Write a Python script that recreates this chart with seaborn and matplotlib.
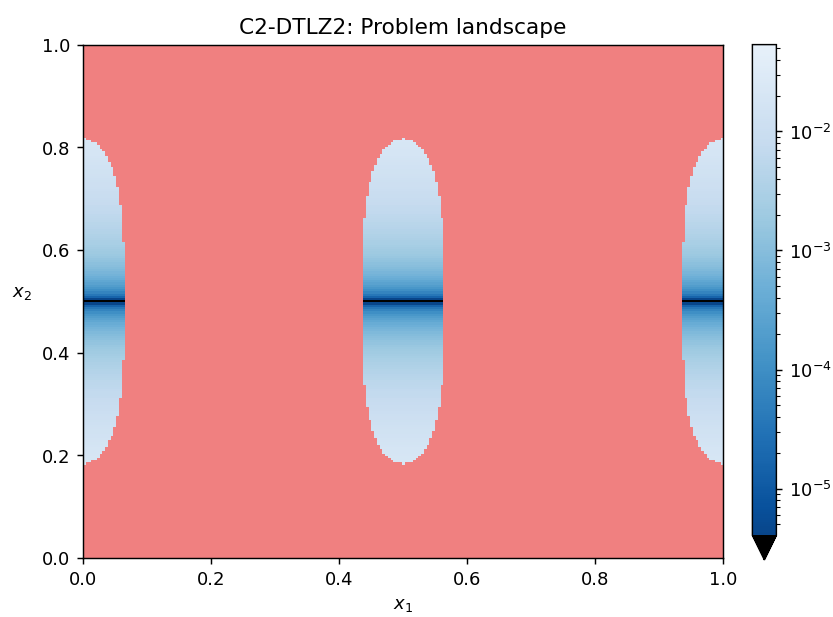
import numpy as np
import matplotlib
matplotlib.use("Agg")
import matplotlib.pyplot as plt
from matplotlib.colors import LogNorm, ListedColormap
from matplotlib.ticker import LogLocator, LogFormatterSciNotation, NullFormatter
import seaborn as sns

# C2-DTLZ2 with two objectives and two decision variables
n_grid = 231
radius = 0.1
dist_scale = 0.216        # colour value vs. g (colorbar top 0.054 at g = 0.25)
axis_ticks = [0.0, 0.2, 0.4, 0.6, 0.8, 1.0]
tick_labels = ["0.0", "0.2", "0.4", "0.6", "0.8", "1.0"]

# decision space grid (cell centres)
x1 = (np.arange(n_grid) + 0.5) / n_grid
x2 = (np.arange(n_grid) + 0.5) / n_grid
X1, X2 = np.meshgrid(x1, x2)

# objectives
g = (X2 - 0.5) ** 2
f1 = (1 + g) * np.cos(X1 * np.pi / 2)
f2 = (1 + g) * np.sin(X1 * np.pi / 2)

# C2 constraint: feasible near the extreme points or near the centre of the front
corner1 = (f1 - 1) ** 2 + f2 ** 2 - radius ** 2
corner2 = f1 ** 2 + (f2 - 1) ** 2 - radius ** 2
centre = (f1 - 1 / np.sqrt(2)) ** 2 + (f2 - 1 / np.sqrt(2)) ** 2 - radius ** 2
feasible = np.minimum(np.minimum(corner1, corner2), centre) <= 0

value = dist_scale * g
vmin = value[g > 0].min()
vmax = value.max()
value[g == 0] = 1e-300              # on the front -> below the colour range (black)
value[~feasible] = np.nan           # infeasible -> background colour

base = sns.color_palette("Blues_r", as_cmap=True)
cmap = ListedColormap(base(np.linspace(0.08, 0.92, 256)))
cmap.set_under("black")
cmap.set_bad((0, 0, 0, 0))

fig = plt.figure(figsize=(833.4 / 130, 617.4 / 130), dpi=130)
ax = fig.add_axes([0.0996, 0.0956, 0.7683, 0.8314])
cax = fig.add_axes([0.9028, 0.0924, 0.0288, 0.8347])

sns.heatmap(value, ax=ax, cbar_ax=cax, cmap=cmap,
            norm=LogNorm(vmin=vmin, vmax=vmax),
            xticklabels=False, yticklabels=False,
            cbar_kws={"extend": "min"})

ax.invert_yaxis()
ax.set_facecolor("lightcoral")
for spine in ax.spines.values():
    spine.set_visible(True)
    spine.set_color("black")
    spine.set_linewidth(0.8)

ax.set_xticks(np.array(axis_ticks) * n_grid)
ax.set_xticklabels(tick_labels, rotation=0)
ax.set_yticks(np.array(axis_ticks) * n_grid)
ax.set_yticklabels(tick_labels, rotation=0)
ax.tick_params(direction="out", length=3.5, width=0.8, labelsize=10)

ax.set_xlabel("$x_1$")
ax.set_ylabel("$x_2$", rotation=0)
ax.yaxis.set_label_coords(-0.095, 0.5)
ax.set_title("C2-DTLZ2: Problem landscape", fontsize=12)

cb = ax.collections[0].colorbar
cb.outline.set_linewidth(0.8)
cb.outline.set_edgecolor("black")
cb.locator = LogLocator(base=10)
cb.minorlocator = LogLocator(base=10, subs=np.arange(2, 10))
cb.formatter = LogFormatterSciNotation()
cb.ax.yaxis.set_minor_formatter(NullFormatter())
cb.ax.tick_params(labelsize=10)

fig.savefig("out.png", dpi=130)
